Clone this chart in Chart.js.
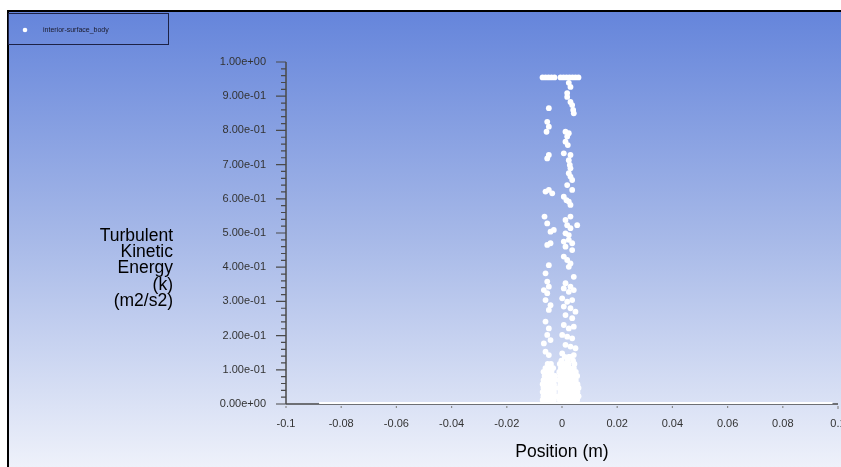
<!DOCTYPE html>
<html><head><meta charset="utf-8">
<script src="https://cdn.jsdelivr.net/npm/chart.js@4.4.1/dist/chart.umd.min.js"></script>
<style>
html,body{margin:0;padding:0;background:#fff;width:841px;height:467px;overflow:hidden;}
#bg{position:absolute;left:7px;top:10px;width:832px;height:455px;border-top:2px solid #000;border-left:2px solid #000;background:linear-gradient(to bottom,#6585db 0%,#a7b9e8 50%,#eef1fa 100%);}
#c{position:absolute;left:0;top:0;}
</style></head><body>
<div id="bg"></div>
<canvas id="c" width="841" height="467"></canvas>
<script>
const seriesLabel = 'interior-surface_body';
const xTitle = 'Position (m)';
const yTitleLines = ['Turbulent','Kinetic','Energy','(k)','(m2/s2)'];
const xTickLabels = ['-0.1','-0.08','-0.06','-0.04','-0.02','0','0.02','0.04','0.06','0.08','0.1'];
const yTickLabels = ['0.00e+00','1.00e-01','2.00e-01','3.00e-01','4.00e-01','5.00e-01','6.00e-01','7.00e-01','8.00e-01','9.00e-01','1.00e+00'];

// Position (m) of each plotted node
const positionM = [
 -0.00705,-0.00597,-0.00488,-0.0038,-0.00271,
 -0.00054,0.00054,0.00163,0.00271,0.0038,0.00488,0.00597,
 0.00246,0.00307,0.00188,0.00188,0.00307,0.00369,0.00405,0.00427,
 -0.00477,
 -0.00535,-0.00477,-0.0056,
 0.00127,0.00246,0.00188,0.00127,0.0021,
 -0.00477,-0.00535,
 0.00065,0.00307,0.00246,0.00282,0.00307,0.00246,0.00307,
 0.00369,0.00188,0.00369,
 -0.00597,-0.00477,-0.00354,
 0.00065,0.00163,0.00246,0.00307,
 -0.00633,-0.00535,-0.00416,-0.00297,
 0.00127,0.00307,0.0055,0.00188,0.00307,0.00127,0.00246,
 -0.00535,-0.00416,
 0.00065,0.00246,0.00369,0.00127,0.00369,0.00065,0.00188,0.00307,0.00246,
 -0.00477,-0.00597,-0.00535,-0.00477,
 0.00427,0.00127,0.00307,
 -0.00658,-0.00535,-0.00597,-0.00416,-0.00477,
 0.00065,0.00246,0.00427,0.00007,0.00188,0.00369,0.00065,0.00307,0.00488,0.00127,0.00369,
 -0.00597,-0.00477,-0.00535,-0.00658,-0.00416,-0.00597,-0.00477,
 0.00065,0.00246,0.00427,0.00007,0.00188,0.00369,0.00127,0.00307,0.00488,0.00007,0.00246,0.00427,
 -0.0052,-0.0040,
 -0.0060,-0.0045,-0.0032,
 -0.0067,-0.0052,-0.0038,
 -0.0063,-0.0048,-0.0034,-0.0025,
 -0.0067,-0.0052,-0.0038,-0.0027,
 -0.0070,-0.0056,-0.0042,-0.0029,
 -0.0067,-0.0052,-0.0038,-0.0025,
 -0.0070,-0.0056,-0.0042,-0.0029,
 -0.0067,-0.0052,-0.0038,-0.0025,
 -0.0070,-0.0056,-0.0042,-0.0029,
 0.0010,0.0030,
 -0.0002,0.0020,0.0040,
 -0.0008,0.0008,0.0024,0.0045,
 -0.0004,0.0012,0.0028,0.0043,
 -0.0010,0.0005,0.0020,0.0035,0.0050,
 -0.0006,0.0010,0.0025,0.0040,0.0055,
 -0.0010,0.0005,0.0020,0.0035,0.0050,
 -0.0006,0.0010,0.0025,0.0040,0.0056,
 -0.0010,0.0005,0.0020,0.0035,0.0050,0.0060,
 -0.0006,0.0010,0.0025,0.0040,0.0056,
 -0.0012,0.0004,0.0020,0.0035,0.0050,0.0060,
 -0.0008,0.0008,0.0024,0.0040,0.0055
];
// Turbulent kinetic energy (m2/s2) of each node
const tke = [
 0.955,0.955,0.955,0.955,0.955,
 0.955,0.955,0.955,0.955,0.955,0.955,0.955,
 0.939,0.927,0.909,0.898,0.883,0.874,0.860,0.850,
 0.865,
 0.825,0.811,0.796,
 0.796,0.792,0.782,0.767,0.757,
 0.728,0.718,
 0.733,0.728,0.713,0.699,0.689,0.675,0.665,
 0.655,0.640,0.626,
 0.621,0.626,0.616,
 0.606,0.596,0.592,0.582,
 0.548,0.528,0.504,0.509,
 0.538,0.548,0.523,0.523,0.514,0.499,0.494,
 0.465,0.470,
 0.475,0.480,0.470,0.460,0.450,0.431,0.421,0.411,0.401,
 0.406,0.382,0.358,0.343,
 0.372,0.353,0.343,
 0.333,0.324,0.304,0.289,0.275,
 0.338,0.328,0.333,0.309,0.299,0.304,0.285,0.280,0.270,0.260,0.251,
 0.241,0.221,0.202,0.177,0.187,0.153,0.143,
 0.231,0.221,0.226,0.202,0.197,0.192,0.173,0.168,0.163,0.148,0.138,0.143,
 0.117,0.117,
 0.105,0.105,0.105,
 0.094,0.094,0.094,
 0.082,0.082,0.082,0.082,
 0.070,0.070,0.070,0.070,
 0.058,0.058,0.058,0.058,
 0.047,0.047,0.047,0.047,
 0.035,0.035,0.035,0.035,
 0.023,0.023,0.023,0.023,
 0.012,0.012,0.012,0.012,
 0.138,0.138,
 0.127,0.127,0.127,
 0.117,0.117,0.117,0.117,
 0.105,0.105,0.105,0.105,
 0.094,0.094,0.094,0.094,0.094,
 0.082,0.082,0.082,0.082,0.082,
 0.070,0.070,0.070,0.070,0.070,
 0.058,0.058,0.058,0.058,0.058,
 0.047,0.047,0.047,0.047,0.047,0.047,
 0.035,0.035,0.035,0.035,0.035,
 0.023,0.023,0.023,0.023,0.023,0.023,
 0.012,0.012,0.012,0.012,0.012
];
// nodes along the rest of the surface, where k is zero
const baselinePosition = [-0.088, 0.098];
const baselineTke = [0, 0];

const sans = '"Liberation Sans",Arial,sans-serif';
const axisColor = '#4a4a4a';

const pts = positionM.map((x,i)=>({x:x,y:tke[i]}));
const base = baselinePosition.map((x,i)=>({x:x,y:baselineTke[i]}));

const decor = {
  id:'decor',
  beforeDatasetsDraw(chart){
    const ctx = chart.ctx, xs = chart.scales.x, ys = chart.scales.y;
    const a = chart.chartArea;
    ctx.save();
    ctx.strokeStyle = axisColor; ctx.lineWidth = 1.5;
    ctx.beginPath();
    ctx.moveTo(a.left, a.top); ctx.lineTo(a.left, a.bottom);
    ctx.moveTo(a.left, a.bottom); ctx.lineTo(a.right, a.bottom);
    ctx.stroke();
    ctx.lineWidth = 1.2;
    ctx.beginPath();
    const yt = ys.ticks;
    for (let i=0;i<yt.length;i++){
      const p = ys.getPixelForValue(yt[i].value);
      ctx.moveTo(a.left-10, p); ctx.lineTo(a.left, p);
      if (i<yt.length-1){
        const step = (yt[i+1].value-yt[i].value)/5;
        for (let m=1;m<5;m++){
          const q = ys.getPixelForValue(yt[i].value+step*m);
          ctx.moveTo(a.left-5, q); ctx.lineTo(a.left, q);
        }
      }
    }
    ctx.stroke();
    ctx.strokeStyle = '#8a8a8a';
    ctx.beginPath();
    xs.ticks.forEach(t=>{
      const p = xs.getPixelForValue(t.value);
      ctx.moveTo(p, a.bottom+2); ctx.lineTo(p, a.bottom+ (t.value>0.099?5:4));
    });
    ctx.stroke();
    ctx.restore();
  },
  afterDraw(chart){
    const ctx = chart.ctx;
    ctx.save();
    ctx.strokeStyle = '#1d2246'; ctx.lineWidth = 1;
    ctx.strokeRect(8.5, 13.5, 160, 31);
    ctx.fillStyle = '#ffffff';
    ctx.beginPath(); ctx.arc(25, 30, 2.3, 0, Math.PI*2); ctx.fill();
    ctx.fillStyle = '#1a1a2a';
    ctx.font = '7px ' + sans;
    ctx.textBaseline = 'middle'; ctx.textAlign = 'left';
    ctx.fillText(chart.data.datasets[0].label, 43, 30);
    ctx.fillStyle = '#000';
    ctx.font = '17.5px ' + sans;
    ctx.textAlign = 'right';
    yTitleLines.forEach((s,i)=>{ ctx.fillText(s, 173, 236 + i*16.3); });
    ctx.restore();
  }
};

new Chart(document.getElementById('c'), {
  type:'scatter',
  data:{ datasets:[
    { label: seriesLabel, data: pts, backgroundColor:'#ffffff', borderWidth:0, pointRadius:2.9, pointHoverRadius:2.9 },
    { label: seriesLabel, data: base, showLine:true, borderColor:'#ffffff', borderWidth:4, pointRadius:0, backgroundColor:'#ffffff' }
  ]},
  options:{
    responsive:false, devicePixelRatio:1, animation:false,
    layout:{ padding:{ left:0, top:62, right:3, bottom:0 } },
    plugins:{ legend:{display:false}, tooltip:{enabled:false} },
    scales:{
      x:{ type:'linear', min:-0.1, max:0.1,
          ticks:{ stepSize:0.02, padding:13, color:'#333333', font:{family:sans, size:11},
                  callback:(v,i)=>xTickLabels[i], maxRotation:0, autoSkip:false },
          grid:{ display:false, drawTicks:false }, border:{ display:false },
          title:{ display:true, text:xTitle, color:'#000', font:{family:sans, size:17.5}, padding:{top:0,bottom:4.5} },
          afterFit(s){ s.height = 63; s.paddingLeft = 0; s.paddingRight = 0; } },
      y:{ type:'linear', min:0, max:1,
          ticks:{ stepSize:0.1, padding:20, color:'#333333', font:{family:sans, size:11},
                  callback:(v,i)=>yTickLabels[i], autoSkip:false },
          grid:{ display:false, drawTicks:false }, border:{ display:false },
          afterFit(s){ s.width = 286; } }
    }
  },
  plugins:[decor]
});
</script>
</body></html>
